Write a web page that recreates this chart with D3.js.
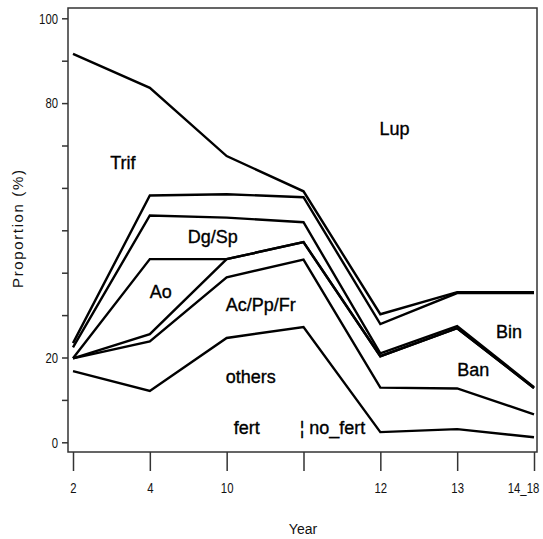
<!DOCTYPE html>
<html>
<head>
<meta charset="utf-8">
<script src="https://cdn.jsdelivr.net/npm/d3@7"></script>
<style>
  body { margin: 0; background: #fff; }
  svg { font-family: "Liberation Sans", Arial, sans-serif; }
</style>
</head>
<body>
<script>
// x categories (years) and their tick labels
var categories = ["2", "4", "10", "11", "12", "13", "14_18"];
var tickLabels = ["2", "4", "10", "", "12", "13", "14_18"];

// cumulative proportion boundaries (%), one value per year
var lupLine    = [91.6, 83.6, 67.5, 59.2, 30.2, 35.4, 35.4];
var trifLine   = [23.4, 58.2, 58.5, 57.8, 27.9, 35.2, 35.2];
var dgTopLine  = [22.4, 53.5, 53.0, 51.9, 21.0, 27.4, 13.0];
var aoTopLine  = [19.8, 43.2, 43.2, 47.2, 20.3, 26.9, 12.8];
var aoLowLine  = [19.8, 25.5, 43.2, 47.2, 20.3, 26.9, 12.8];
var acTopLine  = [19.8, 23.8, 38.9, 43.1, 12.9, 12.7, 6.6];
var othersLine = [16.8, 12.1, 24.6, 27.2, 2.4, 3.1, 1.2];

var yTicks = [0, 10, 20, 30, 40, 50, 60, 70, 80, 90, 100];
var yTickLabels = [0, 20, 80, 100];

// region labels: text, year position and proportion
var labels = [
  {text: "Lup", at: "11", dx: 91, v: 72.5},
  {text: "Trif", at: "4", dx: -27, v: 64.5},
  {text: "Dg/Sp", at: "10", dx: -14, v: 47},
  {text: "Ao", at: "4", dx: 11, v: 34},
  {text: "Ac/Pp/Fr", at: "10", dx: 34, v: 31},
  {text: "others", at: "10", dx: 24, v: 14},
  {text: "fert", at: "10", dx: 20, v: 2},
  {text: "\u00a6 no_fert", at: "11", dx: 29, v: 2},
  {text: "Bin", at: "14_18", dx: -25, v: 24.5},
  {text: "Ban", at: "13", dx: 16, v: 15.7}
];

var w = 543, h = 539;
var frameL = 68, frameR = 537, frameT = 8, frameB = 452;

// tick labels are drawn in a narrow face: squeeze each glyph to this width
var charW = 6.3;
function squeeze(sel){
    sel.each(function(){
        var t = d3.select(this), s = t.text();
        if (s.length) t.attr("textLength", s.length * charW).attr("lengthAdjust", "spacingAndGlyphs");
    });
}

var svg = d3.select("body").append("svg")
    .attr("width", w)
    .attr("height", h);

var x = d3.scalePoint()
    .domain(categories)
    .range([73, 534]);

var y = d3.scaleLinear()
    .domain([0, 100])
    .range([442.3, 18.3]);

// frame
svg.append("rect")
    .attr("x", frameL)
    .attr("y", frameT)
    .attr("width", frameR - frameL)
    .attr("height", frameB - frameT)
    .attr("fill", "none")
    .attr("stroke", "#333")
    .attr("stroke-width", 1.5);

// y axis
var yAxis = svg.append("g")
    .attr("transform", "translate(" + frameL + ",0)")
    .call(d3.axisLeft(y)
        .tickValues(yTicks)
        .tickSize(6)
        .tickPadding(4)
        .tickFormat(function(d){ return yTickLabels.indexOf(d) >= 0 ? d : ""; }));
yAxis.select(".domain").remove();
yAxis.selectAll("line").attr("stroke", "#333").attr("stroke-width", 1.5);
yAxis.selectAll("text")
    .attr("font-size", 15)
    .attr("font-family", "'Liberation Sans', Arial, sans-serif")
    .attr("fill", "#111")
    .call(squeeze);

// x axis
var xAxis = svg.append("g")
    .attr("transform", "translate(0," + frameB + ")")
    .call(d3.axisBottom(x)
        .tickSize(19)
        .tickPadding(11)
        .tickFormat(function(d, i){ return tickLabels[i]; }));
xAxis.select(".domain").remove();
xAxis.selectAll("line").attr("stroke", "#333").attr("stroke-width", 1.5);
xAxis.selectAll("text")
    .attr("font-size", 15)
    .attr("font-family", "'Liberation Sans', Arial, sans-serif")
    .attr("fill", "#111")
    .attr("dx", function(d, i){ return i === categories.length - 1 ? -11 : 0; })
    .call(squeeze);

// axis titles
svg.append("text")
    .attr("transform", "translate(23,229) rotate(-90)")
    .attr("text-anchor", "middle")
    .attr("font-size", 15)
    .attr("fill", "#111")
    .attr("textLength", 118)
    .text("Proportion (%)");

svg.append("text")
    .attr("x", 303)
    .attr("y", 534)
    .attr("text-anchor", "middle")
    .attr("font-size", 14)
    .attr("fill", "#111")
    .text("Year");

// boundary lines
var line = d3.line()
    .x(function(d, i){ return x(categories[i]); })
    .y(function(d){ return y(d); });

var series = [lupLine, trifLine, dgTopLine, aoTopLine, aoLowLine, acTopLine, othersLine];

svg.selectAll(".bound")
    .data(series)
    .enter()
    .append("path")
    .attr("class", "bound")
    .attr("d", line)
    .attr("fill", "none")
    .attr("stroke", "#000")
    .attr("stroke-width", 2.4)
    .attr("stroke-linejoin", "miter");

// region labels
svg.selectAll(".lab")
    .data(labels)
    .enter()
    .append("text")
    .attr("class", "lab")
    .attr("x", function(d){ return x(d.at) + d.dx; })
    .attr("y", function(d){ return y(d.v); })
    .attr("text-anchor", "middle")
    .attr("font-size", 18)
    .attr("fill", "#000")
    .attr("stroke", "#000")
    .attr("stroke-width", 0.35)
    .text(function(d){ return d.text; });
</script>
</body>
</html>
